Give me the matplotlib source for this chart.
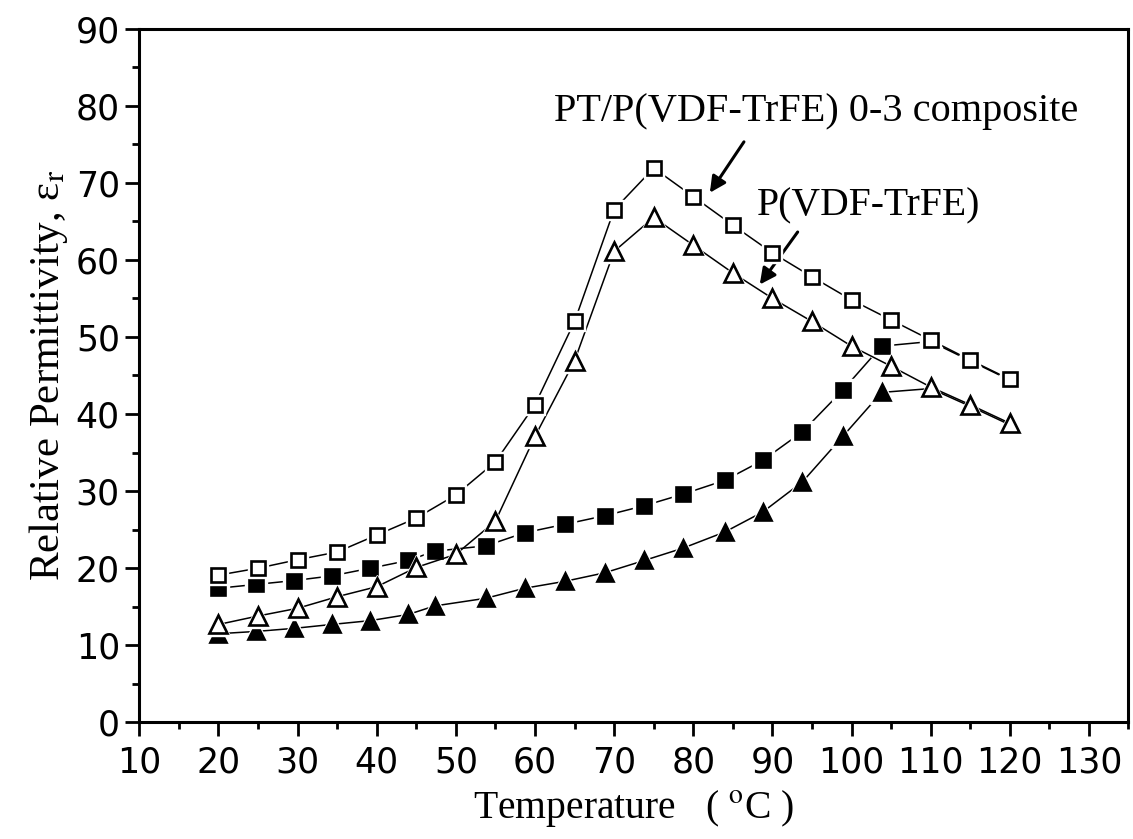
import numpy as np
import matplotlib
matplotlib.use('Agg')
import matplotlib.pyplot as plt
from matplotlib.ticker import MultipleLocator

matplotlib.rcParams['xtick.direction'] = 'out'
matplotlib.rcParams['ytick.direction'] = 'out'
matplotlib.rcParams['mathtext.fontset'] = 'stix'

# open squares: PT/P(VDF-TrFE) 0-3 composite (heating)
t_comp = [20, 25, 30, 35, 40, 45, 50, 55, 60, 65, 70, 75, 80, 85, 90, 95, 100, 105, 110, 115, 120]
e_comp = [19.1, 20.0, 21.1, 22.1, 24.3, 26.5, 29.5, 33.8, 41.2, 52.0, 66.5, 71.9, 68.2, 64.5, 60.9,
          57.8, 54.8, 52.2, 49.6, 47.0, 44.5]

# open triangles: P(VDF-TrFE) (heating)
t_copo = [20, 25, 30, 35, 40, 45, 50, 55, 60, 65, 70, 75, 80, 85, 90, 95, 100, 105, 110, 115, 120]
e_copo = [12.7, 13.8, 14.8, 16.3, 17.6, 20.1, 21.8, 26.1, 37.1, 46.9, 61.1, 65.5, 61.9, 58.3, 55.0,
          52.0, 48.8, 46.2, 43.5, 41.2, 38.8]

# filled squares: composite (second run)
t_comp2 = [20, 24.8, 29.6, 34.3, 39.2, 44, 47.3, 53.8, 58.7, 63.8, 68.8, 73.8, 78.7, 84, 88.8, 93.8,
           98.9, 103.8, 110, 115, 120]
e_comp2 = [17.4, 17.9, 18.4, 19.0, 20.0, 21.0, 22.2, 22.9, 24.6, 25.7, 26.8, 28.1, 29.6, 31.4, 34.0,
           37.7, 43.1, 48.8, 49.4, 46.9, 44.4]

# filled triangles: P(VDF-TrFE) (second run)
t_copo2 = [20, 24.8, 29.6, 34.3, 39.2, 44, 47.3, 53.8, 58.7, 63.8, 68.8, 73.8, 78.7, 84, 88.8, 93.8,
           98.9, 103.8, 110, 115, 120]
e_copo2 = [11.5, 11.8, 12.2, 12.7, 13.2, 14.0, 15.1, 16.1, 17.4, 18.3, 19.4, 21.0, 22.6, 24.7, 27.3,
           31.2, 37.1, 42.8, 43.3, 41.0, 38.6]

fig = plt.figure(figsize=(11.33, 8.39), dpi=100)
ax = fig.add_axes([0.123, 0.139, 0.873, 0.827])


def series(x, y, marker, filled, ms, z):
    # line, white halo so the line stops short of the marker, then the marker
    ax.plot(x, y, '-', color='black', lw=1.1, zorder=z)
    ax.plot(x, y, linestyle='none', marker=marker, ms=ms + 5, mfc='white', mec='white', zorder=z + 0.1)
    ax.plot(x, y, linestyle='none', marker=marker, ms=ms,
            mfc='black' if filled else 'white', mec='black', mew=1.9, zorder=z + 0.2)


series(t_comp2, e_comp2, 's', True, 10.5, 1)
series(t_copo2, e_copo2, '^', True, 12, 2)
series(t_copo, e_copo, '^', False, 12.5, 3)
series(t_comp, e_comp, 's', False, 10, 4)

ax.set_xlim(10, 135)
ax.set_ylim(0, 90)
ax.xaxis.set_major_locator(MultipleLocator(10))
ax.xaxis.set_minor_locator(MultipleLocator(5))
ax.yaxis.set_major_locator(MultipleLocator(10))
ax.yaxis.set_minor_locator(MultipleLocator(5))
ax.tick_params(which='major', length=10, width=2, labelsize=25)
ax.tick_params(which='minor', length=5, width=2)
ax.tick_params(axis='x', which='major', pad=7)
ax.tick_params(axis='y', which='major', pad=4)
for lab in ax.get_xticklabels() + ax.get_yticklabels():
    lab.set_family('DejaVu Sans')
for s in ax.spines.values():
    s.set_linewidth(2.2)

ax.set_xlabel('Temperature   ( $^{\\mathrm{o}}$C )', family='Liberation Serif', fontsize=28.5, labelpad=6)
ax.set_ylabel('Relative Permittivity, ε$_{\\mathrm{r}}$', family='Liberation Serif',
              fontsize=31, labelpad=4)

ax.annotate('', xy=(81.9, 68.4), xytext=(86.6, 75.6),
            arrowprops=dict(arrowstyle='-|>', color='black', lw=2.2, mutation_scale=24))
ax.text(62.4, 79.2, 'PT/P(VDF-TrFE) 0-3 composite', family='Liberation Serif', fontsize=29,
        va='center', ha='left')
ax.annotate('', xy=(88.2, 56.5), xytext=(93.4, 63.9),
            arrowprops=dict(arrowstyle='-|>', color='black', lw=2.2, mutation_scale=24))
ax.text(88.0, 67.0, 'P(VDF-TrFE)', family='Liberation Serif', fontsize=28.5, va='center', ha='left')

fig.savefig('out.png', dpi=100)
